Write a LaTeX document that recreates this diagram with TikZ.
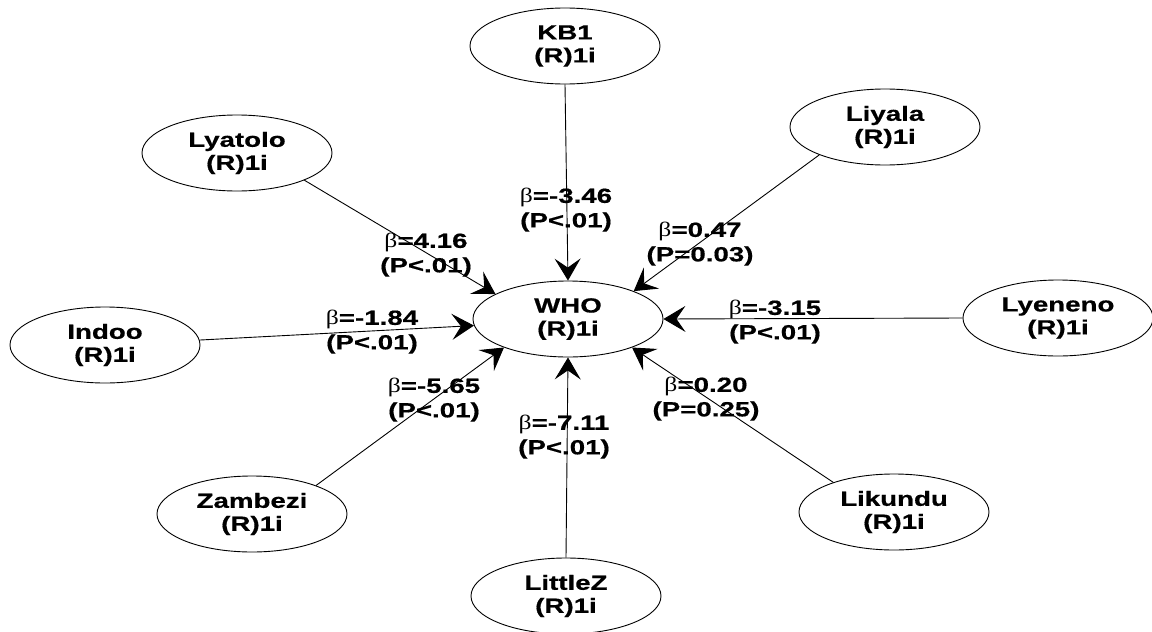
\documentclass[tikz,border=0pt]{standalone}
\usepackage{fontspec}
\setmainfont{Liberation Sans}[FakeStretch=1.35, BoldFeatures={FakeBold=0.6}]
\newfontfamily\betafont{Liberation Serif}[FakeStretch=1.25]
\usetikzlibrary{arrows.meta,shapes.geometric}
\newcommand{\bt}{{\betafont\mdseries β}}
\tikzset{
  lv/.style={draw, ellipse, line width=0.9pt, minimum width=190pt, minimum height=76pt, inner sep=0pt,
    align=center, font=\fontsize{20.5}{23}\selectfont\bfseries},
  arr/.style={line width=0.9pt, -{Stealth[length=22pt,width=26pt,inset=9pt]}},
  lab/.style={align=center, inner sep=0pt, font=\fontsize{20.5}{24.5}\selectfont\bfseries}
}
\begin{document}
\begin{tikzpicture}[x=1pt,y=-1pt]
\useasboundingbox[fill=white] (0,0) rectangle (1152,632);
\node[lv] (who) at (568,319) {WHO\\(R)1i};
\node[lv] (kb1) at (565,46) {KB1\\(R)1i};
\node[lv] (lyatolo) at (237,153) {Lyatolo\\(R)1i};
\node[lv] (liyala) at (885,127) {Liyala\\(R)1i};
\node[lv] (indoo) at (105,345) {Indoo\\(R)1i};
\node[lv] (lyeneno) at (1058,318) {Lyeneno\\(R)1i};
\node[lv] (zambezi) at (252,514) {Zambezi\\(R)1i};
\node[lv] (likundu) at (894,512) {Likundu\\(R)1i};
\node[lv] (littlez) at (566,596) {LittleZ\\(R)1i};

\draw[arr] (kb1.270) -- (who.90);
\draw[arr] (lyatolo.338) -- (who.161);
\draw[arr] (liyala.203) -- (who.23);
\draw[arr] (lyeneno.180) -- (who.0);
\draw[arr] (indoo.3) -- (who.184);
\draw[arr] (zambezi.24) -- (who.204);
\draw[arr] (littlez.90) -- (who.270);
\draw[arr] (likundu.154) -- (who.336);

\node[lab] (l1) at (566,210) {\bt=-3.46\\(P<.01)};
\node[lab] (l2) at (426,255) {\bt=4.16\\(P<.01)};
\node[lab] (l3) at (700,244) {\bt=0.47\\(P=0.03)};
\node[lab] (l4) at (775,322) {\bt=-3.15\\(P<.01)};
\node[lab] (l5) at (372,332) {\bt=-1.84\\(P<.01)};
\node[lab] (l6) at (434,400) {\bt=-5.65\\(P<.01)};
\node[lab] (l7) at (564,437) {\bt=-7.11\\(P<.01)};
\node[lab] (l8) at (706,399) {\bt=0.20\\(P=0.25)};
\end{tikzpicture}
\end{document}
